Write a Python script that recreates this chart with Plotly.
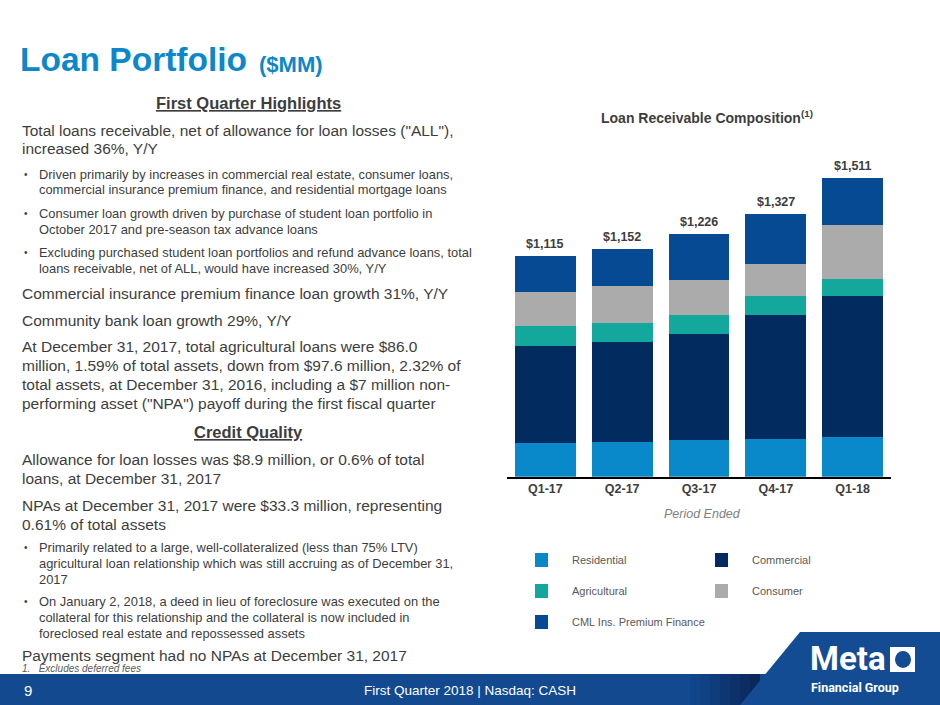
import plotly.graph_objects as go

# ---------------- data ----------------
quarters = ["Q1-17", "Q2-17", "Q3-17", "Q4-17", "Q1-18"]
residential = [168, 173, 185, 190, 199]
commercial = [492, 508, 536, 627, 712]
agricultural = [99, 98, 98, 94, 86]
consumer = [172, 184, 173, 165, 277]
cml_premium = [184, 189, 234, 251, 237]
total_labels = ["$1,115", "$1,152", "$1,226", "$1,327", "$1,511"]
totals = [1115, 1152, 1226, 1327, 1511]

series_names = ["Residential", "Commercial", "Agricultural", "Consumer", "CML Ins. Premium Finance"]
series_values = [residential, commercial, agricultural, consumer, cml_premium]
series_colors = ["#0A89CA", "#022B60", "#14A89C", "#ABABAB", "#054A92"]

W, H = 940, 705


def px(x, y):
    return x / W, 1 - y / H


TEXT = "#3D3D3D"
FONT = "Liberation Sans"

fig = go.Figure()
for name, vals, col in zip(series_names, series_values, series_colors):
    fig.add_trace(go.Bar(x=quarters, y=vals, name=name, marker=dict(color=col, line=dict(width=0)),
                         showlegend=False, hoverinfo="x+y+name"))

ann = []
for q, t, lab in zip(quarters, totals, total_labels):
    ann.append(dict(x=q, y=t, xref="x", yref="y", text="<b>%s</b>" % lab, showarrow=False,
                    yanchor="bottom", yshift=3, font=dict(family=FONT, size=12.5, color=TEXT)))


def txt(x, y, s, size=15.5, color=TEXT, anchor="left", family=FONT):
    X, Y = px(x, y)
    ann.append(dict(x=X, y=Y, xref="paper", yref="paper", text=s, showarrow=False,
                    xanchor=anchor, yanchor="middle", align=anchor,
                    font=dict(family=family, size=size, color=color)))


# title
txt(18, 59, "<b>Loan Portfolio</b>", size=33.5, color="#0B87CA")
txt(257, 64, "<b>($MM)</b>", size=22, color="#0B87CA")

# chart title + axis title
txt(707, 117, "<b>Loan Receivable Composition<sup>(1)</sup></b>", size=14, anchor="center")
txt(702, 514, "<i>Period Ended</i>", size=12.5, color="#7F7F7F", anchor="center")

# left text block
txt(248, 103, "<b><u>First Quarter Highlights</u></b>", size=16.5, anchor="center")
big = 15.5
small = 12.9
txt(20, 130, 'Total loans receivable, net of allowance for loan losses ("ALL"),', big)
txt(20, 149, "increased 36%, Y/Y", big)
bullets = [
    (174, "Driven primarily by increases in commercial real estate, consumer loans,"),
    (189, "commercial insurance premium finance, and residential mortgage loans"),
    (213, "Consumer loan growth driven by purchase of student loan portfolio in"),
    (229, "October 2017 and pre-season tax advance loans"),
    (252, "Excluding purchased student loan portfolios and refund advance loans, total"),
    (268, "loans receivable, net of ALL, would have increased 30%, Y/Y"),
]
for y, s in bullets:
    txt(37, y, s, small)
for y in (174, 213, 252):
    txt(22, y, "•", 10)
txt(20, 293, "Commercial insurance premium finance loan growth 31%, Y/Y", big)
txt(20, 320, "Community bank loan growth 29%, Y/Y", big)
txt(20, 346, "At December 31, 2017, total agricultural loans were $86.0", big)
txt(20, 365, "million, 1.59% of total assets, down from $97.6 million, 2.32% of", big)
txt(20, 384, "total assets, at December 31, 2016, including a $7 million non-", big)
txt(20, 403, 'performing asset ("NPA") payoff during the first fiscal quarter', big)
txt(248, 432, "<b><u>Credit Quality</u></b>", size=16.5, anchor="center")
txt(20, 459, "Allowance for loan losses was $8.9 million, or 0.6% of total", big)
txt(20, 478, "loans, at December 31, 2017", big)
txt(20, 505, "NPAs at December 31, 2017 were $33.3 million, representing", big)
txt(20, 524, "0.61% of total assets", big)
bullets2 = [
    (547, "Primarily related to a large, well-collateralized (less than 75% LTV)"),
    (563, "agricultural loan relationship which was still accruing as of December 31,"),
    (579, "2017"),
    (601, "On January 2, 2018, a deed in lieu of foreclosure was executed on the"),
    (617, "collateral for this relationship and the collateral is now included in"),
    (633, "foreclosed real estate and repossessed assets"),
]
for y, s in bullets2:
    txt(37, y, s, small)
for y in (547, 601):
    txt(22, y, "•", 10)
txt(20, 655, "Payments segment had no NPAs at December 31, 2017", big)
txt(20, 668, "<i>1.   Excludes deferred fees</i>", 10, color="#595959")

# footer
shapes = []
shapes.append(dict(type="rect", xref="paper", yref="paper", x0=0, x1=1, y0=0, y1=px(0, 674)[1],
                   fillcolor="#12498F", line=dict(width=0), layer="above"))
steps = ["#11458A", "#104183", "#0F3C7B", "#0E3673", "#0D316B", "#0C2C64", "#0B285D"]
for i, c in enumerate(steps):
    x0 = 690 + i * 10
    shapes.append(dict(type="rect", xref="paper", yref="paper", x0=x0 / W, x1=(x0 + 10) / W,
                       y0=0, y1=px(0, 674)[1], fillcolor=c, line=dict(width=0), layer="above"))
p = [px(800, 632), px(940, 632), px(940, 705), px(740, 705)]
path = "M %f %f L %f %f L %f %f L %f %f Z" % (p[0][0], p[0][1], p[1][0], p[1][1], p[2][0], p[2][1], p[3][0], p[3][1])
shapes.append(dict(type="path", xref="paper", yref="paper", path=path, fillcolor="#134C93",
                   line=dict(width=0), layer="above"))
x0, y0 = px(890, 647)
x1, y1 = px(915, 672)
shapes.append(dict(type="rect", xref="paper", yref="paper", x0=x0, y0=y0, x1=x1, y1=y1,
                   fillcolor="white", line=dict(width=0), layer="above"))
c0, c1 = px(895, 651)
c2, c3 = px(911, 668)
shapes.append(dict(type="circle", xref="paper", yref="paper", x0=c0, y0=c1, x1=c2, y1=c3,
                   fillcolor="#134C93", line=dict(width=0), layer="above"))
txt(808, 658, "<b>Meta</b>", 33, color="white", family="Roboto")
txt(809, 687, "<b>Financial Group</b>", 12.5, color="white", family="Roboto")
txt(22, 690, "9", 15, color="white")
txt(470, 690, "First Quarter 2018 | Nasdaq: CASH", 13.5, color="white", anchor="center")

# legend (manual)
legend_pos = [(535, 560), (715, 560), (535, 591), (715, 591), (535, 622)]
for (lx, ly), name, col in zip(legend_pos, series_names, series_colors):
    a0, b0 = px(lx, ly - 7)
    a1, b1 = px(lx + 13, ly + 7)
    shapes.append(dict(type="rect", xref="paper", yref="paper", x0=a0, x1=a1, y0=b1, y1=b0,
                       fillcolor=col, line=dict(width=0)))
    txt(lx + 35, ly, name, 11, color="#595959")

fig.update_layout(
    width=W, height=H, margin=dict(l=0, r=0, t=0, b=0),
    paper_bgcolor="white", plot_bgcolor="white",
    barmode="stack", bargap=0.206,
    annotations=ann, shapes=shapes,
    xaxis=dict(domain=[507 / W, 891 / W], showline=True, linecolor="black", linewidth=1.5,
               ticks="", showgrid=False, zeroline=False,
               tickfont=dict(family=FONT, size=12.5, color=TEXT)),
    yaxis=dict(domain=[1 - 476.7 / H, 1 - 140.2 / H], range=[0, 1700], visible=False,
               showgrid=False, zeroline=False),
    font=dict(family=FONT),
)
fig.update_xaxes(tickprefix="<b>", ticksuffix="</b>")

fig.write_html("out.html", config={"displayModeBar": False},
               post_script="document.body.style.margin='0';document.body.style.overflow='hidden';")
